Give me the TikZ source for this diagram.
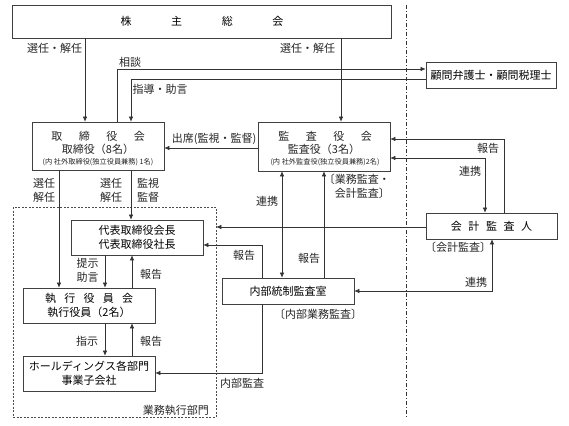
\documentclass[tikz,border=0pt]{standalone}
\usepackage{fontspec}
\setmainfont{Noto Sans CJK JP}
\usetikzlibrary{arrows.meta}
\newcommand{\fsz}{\fontsize{11pt}{14pt}\selectfont}
\newcommand{\fsmall}{\fontsize{7.2pt}{8pt}\selectfont}
\tikzset{
  box/.style={draw=black!75, line width=0.7pt, inner sep=0pt, align=center, font=\fsz},
  lbl/.style={inner sep=0pt, align=center, font=\fsz, text=black!85},
  tip/.tip={Latex[length=5pt,width=4.5pt]},
  conn/.style={draw=black!80, line width=0.6pt},
  arr/.style={conn, -tip},
  arrb/.style={conn, tip-tip},
}
\begin{document}
\begin{tikzpicture}[x=1pt,y=-1pt]
\useasboundingbox (0,0) rectangle (569,425);
\fill[white] (0,0) rectangle (569,425);

% boxes
\node[box, minimum width=379pt, minimum height=33pt] (sh) at (202,21.5) {株\hspace{3.6em}主\hspace{3.6em}総\hspace{3.6em}会};
\node[box, minimum width=130pt, minimum height=26pt] (kom) at (491,75) {顧問弁護士・顧問税理士};
\node[box, minimum width=132pt, minimum height=48pt] (tor) at (98,146) {};
\node[box, minimum width=132pt, minimum height=49pt] (kan) at (324,146.5) {};
\node[box, minimum width=131pt, minimum height=26pt] (kai) at (491.5,226) {会\hspace{0.6em}計\hspace{0.6em}監\hspace{0.6em}査\hspace{0.6em}人};
\node[draw=black!70, line width=0.6pt, dash pattern=on 2pt off 1.5pt, minimum width=203pt, minimum height=210pt, inner sep=0pt] (gyomu) at (114.5,312) {};
\node[box, minimum width=132pt, minimum height=35pt] (dai) at (137,237.5) {代表取締役会長\\代表取締役社長};
\node[box, minimum width=132pt, minimum height=35pt] (shik) at (89,305.5) {執\hspace{0.75em}行\hspace{0.75em}役\hspace{0.75em}員\hspace{0.75em}会\\執行役員（2名）};
\node[box, minimum width=132pt, minimum height=35pt] (hd) at (89,373.5) {ホールディングス各部門\\事業子会社};
\node[box, minimum width=132pt, minimum height=26pt] (nai) at (288,291) {内部統制監査室};

% texts inside the board boxes
\node[lbl] (torT1) at (98,136) {取\hspace{1.5em}締\hspace{1.5em}役\hspace{1.5em}会};
\node[lbl] (torT2) at (98,149) {取締役（8名）};
\node[lbl, font=\fsmall] (torT3) at (98,162) {(内 社外取締役(独立役員兼務) 1名)};
\node[lbl] (kanT1) at (325,136) {監\hspace{1.5em}査\hspace{1.5em}役\hspace{1.5em}会};
\node[lbl] (kanT2) at (324,149) {監査役（3名）};
\node[lbl, font=\fsmall] (kanT3) at (325,162) {(内 社外監査役(独立役員兼務)2名)};

% divider
\draw[black!80, line width=0.8pt, dash pattern=on 4pt off 2pt on 1pt off 2pt] (406,5) -- (406,417);

% connectors
\draw[arr] (sh.south -| 85,0) -- (tor.north -| 85,0);
\draw[arr] (sh.south -| 341,0) -- (kan.north -| 341,0);
\draw[arr] (tor.north -| 117,0) |- (kom.west |- 0,69);
\draw[arr] (kom.west |- 0,79) -| (tor.north -| 131,0);
\draw[arr] (kan.west |- 0,148) -- (tor.east |- 0,148);
\draw[arr] (kai.north -| 504,0) |- (kan.east |- 0,139);
\draw[arrb] (kan.east |- 0,158) -| (kai.north -| 485,0);
\draw[arr] (kai.west |- 0,227) -- (gyomu.east |- 0,227);
\draw[arr] (tor.south -| 59,0) -- (shik.north -| 59,0);
\draw[arr] (tor.south -| 131,0) -- (dai.north -| 131,0);
\draw[arrb] (kan.south -| 282,0) -- (nai.north -| 282,0);
\draw[arr] (nai.north -| 324,0) -- (kan.south -| 324,0);
\draw[arr] (nai.north -| 262,0) |- (dai.east |- 0,245);
\draw[arr] (dai.south -| 105,0) -- (shik.north -| 105,0);
\draw[arr] (shik.north -| 132,0) -- (dai.south -| 132,0);
\draw[arr] (shik.south -| 105,0) -- (hd.north -| 105,0);
\draw[arr] (hd.north -| 132,0) -- (shik.south -| 132,0);
\draw[arr] (nai.south -| 262,0) |- (hd.east |- 0,373);
\draw[arrb] (kai.south -| 492,0) |- (nai.east |- 0,291);

% labels
\node[lbl] (l1) at (54.5,48) {選任・解任};
\node[lbl] (l2) at (307.5,48) {選任・解任};
\node[lbl] (l3) at (130,62) {相談};
\node[lbl] (l4) at (160,89) {指導・助言};
\node[lbl] (l5) at (214,139) {出席(監視・監督)};
\node[lbl] (l6) at (488,148) {報告};
\node[lbl] (l7) at (470,171) {連携};
\node[lbl, anchor=east, align=right] (l8) at (390,186.5) {〔業務監査・\\会計監査〕};
\node[lbl] (l9) at (44,190) {選任\\解任};
\node[lbl] (l10) at (111,190) {選任\\解任};
\node[lbl] (l11) at (148,190) {監視\\監督};
\node[lbl] (l12) at (267,201) {連携};
\node[lbl] (l13) at (244,255) {報告};
\node[lbl] (l14) at (309,258) {報告};
\node[lbl] (l15) at (458,247) {〔会計監査〕};
\node[lbl] (l16) at (476,282) {連携};
\node[lbl] (l17) at (318,314) {〔内部業務監査〕};
\node[lbl] (l18) at (87.5,270.5) {提示\\助言};
\node[lbl] (l19) at (151,274) {報告};
\node[lbl] (l20) at (87,341) {指示};
\node[lbl] (l21) at (151,341) {報告};
\node[lbl] (l22) at (242,383) {内部監査};
\node[lbl, anchor=east] (l23) at (209,410) {業務執行部門};
\end{tikzpicture}
\end{document}
